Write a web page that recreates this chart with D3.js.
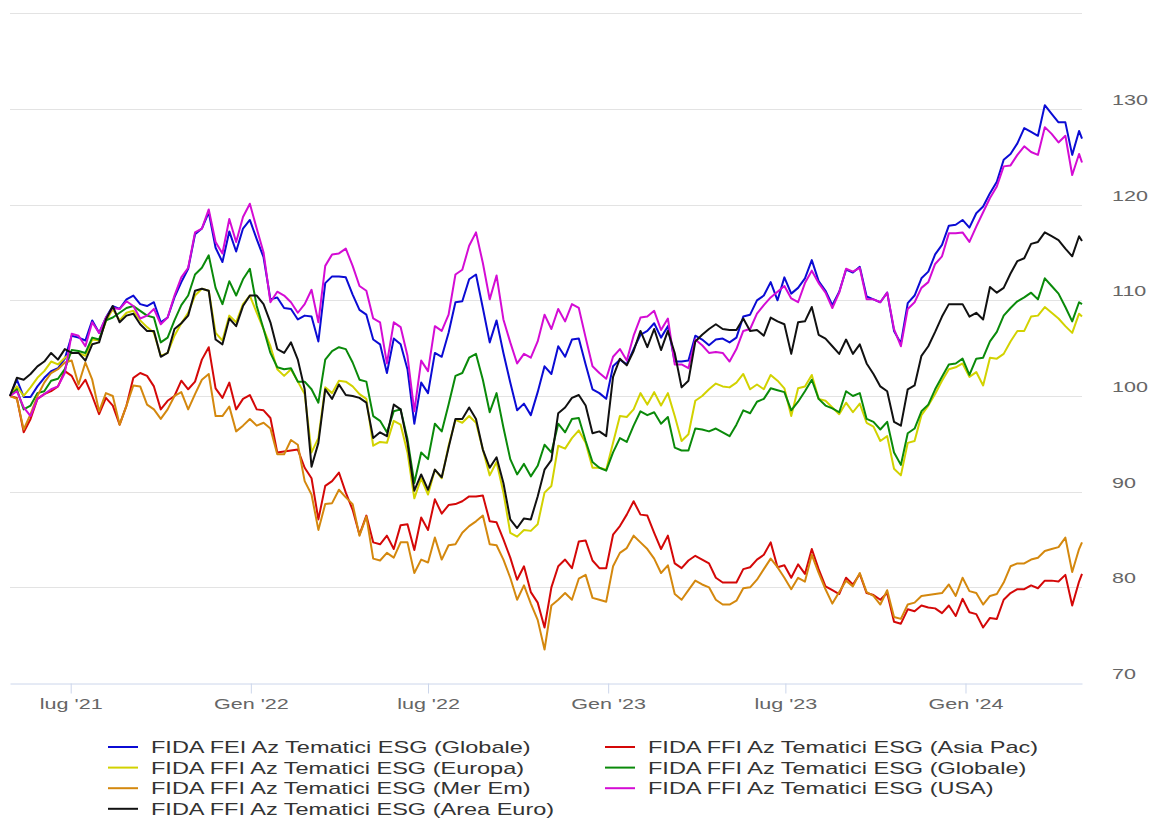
<!DOCTYPE html>
<html>
<head>
<meta charset="utf-8">
<script src="https://cdn.jsdelivr.net/npm/d3@7"></script>
<style>
  body { margin: 0; background: #fff; }
  svg { display: block; font-family: "Liberation Sans", Arial, sans-serif; }
</style>
</head>
<body>
<div id="chart"></div>
<script>

// Weekly closes (base 100)
const startDate = "2021-04-30";
const lastDate = "2024-04-29";

const feiGlobale = [
  100, 101.7, 99.9, 99.9, 101.0, 101.9, 102.6, 102.9, 103.9, 106.3, 106.1, 105.8, 107.9, 106.6, 108.2, 109.4, 109.1, 110.1, 110.5, 109.6, 109.4, 109.8, 107.7, 108.2, 110.3, 111.9, 113.3,
  116.9, 117.5, 119.2, 115.5, 114.0, 117.2, 115.1, 117.5, 118.4, 116.4, 114.5, 110.1, 110.3, 109.2, 109.1, 108.0, 108.4, 108.3, 105.7, 111.8, 112.5, 112.5, 112.4, 110.6,
  109.0, 108.5, 105.9, 105.4, 102.4, 106.0, 105.4, 102.8, 97.1, 101.4, 100.3, 104.5, 104.1, 106.6, 109.8, 109.9, 112.2, 112.7, 109.2, 105.6, 107.9, 104.5, 101.4, 98.5, 99.2, 98.0, 100.4,
  103.1, 102.3, 105.2, 104.1, 105.9, 106.0, 103.3, 100.7, 100.3, 99.7, 103.1, 103.8, 103.3, 104.9, 106.4, 106.8, 107.6, 106.1, 107.3, 103.6, 103.6, 103.7, 106.3, 105.9, 105.3, 105.9,
  106.0, 105.6, 106.1, 108.3, 108.5, 110.0, 110.5, 111.9, 110.0, 112.4, 110.7, 111.3, 112.3, 114.2, 112.0, 111.0, 109.5, 110.9, 113.2, 112.9, 113.5, 110.4, 110.1, 109.8,
  110.8, 106.8, 105.5, 109.7, 110.5, 112.3, 113.0, 114.8, 115.8, 117.8, 117.9, 118.4, 117.6, 119.1, 119.8, 121.2, 122.4, 124.7, 125.3, 126.4, 128.0, 127.6, 127.2, 130.4, 129.5, 128.6, 128.6, 125.2, 127.7, 126.9
];

const ffiAsiaPac = [
  100, 99.8, 96.2, 97.6, 99.7, 100.2, 100.5, 101.0, 102.6, 102.1, 100.7, 101.7, 100.0, 98.1, 99.8, 99.0, 97.0, 99.0, 101.9, 102.4, 102.1, 101.0, 98.6, 99.5, 100.0, 101.6, 100.7,
  101.5, 103.8, 105.1, 100.8, 99.8, 101.4, 98.6, 99.7, 100.1, 98.6, 98.5, 97.7, 94.1, 94.2, 94.3, 94.4, 92.5, 91.4, 87.1, 90.6, 91.1, 92.0, 89.9, 88.1,
  85.5, 87.5, 84.7, 84.5, 85.4, 84.0, 86.5, 86.6, 83.9, 87.3, 86.0, 89.2, 87.7, 88.6, 88.7, 89.0, 89.5, 89.5, 89.6, 86.9, 86.8, 85.0, 83.1, 80.8, 82.2, 79.5, 78.4,
  75.8, 80.0, 82.2, 82.9, 82.0, 84.8, 84.9, 82.8, 82.0, 82.0, 85.5, 86.4, 87.6, 89.0, 87.6, 87.5, 85.7, 84.0, 85.4, 82.5, 82.0, 82.8, 83.3, 82.9, 82.5, 81.0,
  80.5, 80.5, 80.5, 81.9, 82.1, 82.9, 83.4, 84.7, 82.1, 82.3, 81.0, 82.4, 81.4, 84.0, 81.9, 80.1, 79.7, 79.3, 81.0, 80.3, 81.4, 79.4, 79.2, 78.7,
  79.4, 76.4, 76.2, 77.7, 77.5, 78.1, 77.9, 77.8, 77.3, 78.1, 77.0, 78.8, 77.4, 77.2, 75.8, 76.8, 76.7, 78.7, 79.4, 79.8, 79.8, 80.2, 79.9, 80.7, 80.7, 80.6, 81.3, 78.1, 80.6, 81.4
];

const ffiEuropa = [
  100, 101.0, 100.0, 100.9, 101.9, 102.6, 103.6, 103.3, 104.0, 104.5, 104.5, 104.2, 105.9, 105.8, 107.8, 109.1, 107.9, 108.7, 108.9, 107.9, 107.2, 106.6, 104.2, 104.5, 106.3, 107.6, 108.7,
  110.5, 111.2, 111.0, 106.6, 105.8, 108.4, 107.7, 109.6, 110.5, 108.7, 107.0, 105.2, 102.8, 102.1, 102.8, 101.5, 100.2, 94.1, 95.6, 100.9, 100.3, 101.6, 101.5, 101.0,
  100.2, 99.7, 94.8, 95.2, 95.1, 97.4, 97.0, 94.1, 89.3, 91.4, 89.7, 92.3, 91.4, 94.8, 97.5, 97.2, 97.9, 97.2, 94.4, 91.7, 93.1, 89.9, 85.7, 85.3, 86.0, 85.9, 86.6,
  89.9, 90.6, 94.8, 94.5, 95.6, 96.4, 95.1, 92.5, 92.5, 92.3, 95.1, 97.9, 97.8, 98.6, 100.3, 99.1, 100.4, 99.0, 100.3, 97.9, 95.3, 96.0, 99.5, 100.0, 100.7, 101.3,
  101.0, 100.9, 101.4, 102.3, 100.7, 101.2, 100.7, 102.2, 101.6, 100.8, 97.9, 100.8, 101.0, 102.2, 99.7, 99.5, 98.8, 98.1, 99.3, 98.3, 99.2, 97.2, 96.8, 95.3,
  95.8, 92.4, 91.7, 95.1, 95.3, 98.0, 99.0, 100.2, 101.6, 102.8, 103.0, 103.4, 102.0, 102.5, 101.1, 104.0, 103.9, 104.4, 105.7, 106.8, 106.8, 108.3, 108.4, 109.3, 108.7, 108.1, 107.3, 106.6, 108.6, 108.3
];

const ffiGlobale = [
  100, 100.7, 98.6, 99.0, 100.3, 100.5, 101.6, 101.8, 102.8, 104.8, 104.7, 104.5, 106.1, 105.9, 107.9, 108.2, 108.7, 109.2, 109.4, 108.9, 108.4, 108.2, 105.6, 106.1, 107.9, 109.5, 110.5,
  112.7, 113.4, 114.7, 111.3, 109.6, 112.0, 110.5, 112.2, 113.3, 109.4, 107.0, 104.5, 103.0, 102.8, 102.9, 101.5, 101.5, 100.7, 99.3, 103.8, 104.7, 105.1, 104.9, 103.5,
  101.7, 101.5, 97.9, 97.4, 96.2, 98.4, 98.6, 95.5, 90.9, 94.1, 93.4, 97.1, 96.3, 99.1, 102.1, 102.4, 104.0, 104.4, 101.7, 98.3, 100.3, 96.7, 93.4, 91.8, 92.9, 91.6, 92.7,
  94.9, 94.1, 97.1, 96.2, 97.6, 97.7, 95.3, 93.1, 92.5, 92.2, 94.1, 95.6, 95.2, 96.9, 98.4, 98.0, 98.3, 97.1, 97.8, 94.6, 94.3, 94.3, 96.6, 96.5, 96.3, 96.6,
  96.2, 95.8, 97.0, 98.5, 98.2, 99.4, 99.7, 100.8, 100.6, 100.4, 98.5, 99.4, 100.5, 101.7, 99.7, 99.0, 98.7, 98.3, 100.5, 100.0, 100.3, 97.6, 97.3, 96.5,
  97.3, 94.1, 92.8, 96.1, 96.6, 98.4, 99.1, 100.7, 102.0, 103.3, 103.4, 103.9, 102.2, 103.9, 104.0, 105.7, 106.7, 108.4, 109.2, 109.9, 110.3, 110.8, 110.1, 112.3, 111.5, 110.7, 109.3, 107.8, 109.8, 109.6
];

const ffiMerEm = [
  100, 99.7, 96.5, 98.1, 100.0, 101.4, 102.4, 102.8, 103.5, 103.7, 101.2, 103.5, 101.7, 98.4, 100.3, 100.0, 97.0, 99.0, 101.1, 101.0, 99.1, 98.6, 97.6, 98.6, 100.0, 100.4, 98.6,
  100.2, 101.7, 102.3, 97.9, 97.9, 98.9, 96.3, 96.9, 97.6, 96.9, 97.2, 96.6, 93.9, 93.9, 95.4, 94.9, 91.1, 89.7, 86.0, 88.7, 88.8, 90.2, 89.4, 88.7,
  85.4, 87.4, 83.0, 82.8, 83.6, 83.1, 84.7, 84.7, 81.5, 82.9, 82.6, 85.2, 82.9, 84.4, 84.5, 85.7, 86.4, 86.9, 87.5, 84.5, 84.4, 82.9, 81.0, 78.7, 80.2, 78.3, 76.6,
  73.5, 78.1, 78.7, 79.4, 78.7, 80.9, 81.3, 78.9, 78.7, 78.5, 82.2, 83.6, 84.1, 85.4, 84.7, 84.0, 83.0, 81.5, 82.3, 79.3, 78.7, 79.7, 80.7, 80.3, 80.0, 78.7,
  78.2, 78.2, 78.6, 79.9, 80.0, 80.8, 81.9, 83.0, 82.1, 81.0, 79.8, 81.0, 80.6, 83.4, 81.5, 79.8, 78.3, 79.5, 80.7, 80.1, 81.5, 79.5, 79.1, 78.2,
  79.7, 76.9, 76.7, 78.2, 78.4, 79.1, 79.2, 79.3, 79.4, 80.3, 79.1, 81.0, 79.6, 79.4, 78.2, 79.1, 79.3, 80.5, 82.2, 82.5, 82.5, 82.9, 83.1, 83.8, 84.0, 84.2, 85.2, 81.6, 84.0, 84.7
];

const ffiUSA = [
  100, 100.5, 98.8, 97.9, 99.7, 100.2, 100.7, 101.0, 102.4, 106.5, 106.3, 105.2, 107.7, 106.6, 108.2, 109.2, 109.1, 109.9, 109.4, 108.1, 108.4, 109.1, 107.5, 108.2, 110.5, 112.4, 113.4,
  117.1, 117.5, 119.5, 116.1, 114.9, 118.5, 116.1, 118.7, 120.1, 117.5, 115.0, 109.8, 110.9, 110.5, 109.8, 108.7, 109.6, 111.1, 107.7, 113.6, 114.8, 114.9, 115.4, 113.6,
  111.5, 111.0, 108.1, 107.7, 103.4, 107.7, 107.2, 104.2, 98.4, 103.7, 102.6, 107.3, 106.8, 108.5, 112.7, 113.2, 115.7, 117.1, 113.9, 110.1, 112.6, 108.0, 105.6, 103.4, 104.4, 104.0, 105.7,
  108.5, 107.0, 109.1, 107.8, 109.6, 109.2, 106.1, 103.1, 102.4, 101.8, 104.1, 104.9, 103.7, 106.3, 108.2, 108.3, 108.9, 106.9, 108.1, 103.3, 103.3, 102.9, 105.9, 105.3, 104.5, 104.6,
  104.5, 103.6, 104.9, 106.8, 107.0, 108.6, 109.5, 110.3, 110.9, 111.5, 110.2, 109.8, 111.8, 113.1, 111.8, 110.8, 109.2, 110.8, 113.3, 113.0, 113.4, 110.1, 110.1, 109.8,
  110.8, 107.0, 105.2, 109.1, 109.8, 111.3, 111.9, 113.8, 114.6, 117.0, 117.0, 117.1, 116.1, 117.7, 119.2, 120.7, 121.9, 124.0, 124.1, 125.2, 126.1, 125.5, 125.2, 128.1, 127.4, 126.5, 127.2, 123.1, 125.3, 124.4
];

const ffiAreaEuro = [
  100, 101.9, 101.7, 102.3, 103.1, 103.6, 104.5, 103.8, 104.9, 104.5, 104.5, 103.7, 105.4, 105.6, 108.0, 109.4, 107.7, 108.4, 108.6, 107.5, 106.8, 106.8, 104.1, 104.5, 107.0, 107.6, 108.4,
  111.0, 111.2, 111.0, 105.9, 105.4, 108.1, 107.3, 109.4, 110.5, 110.5, 109.6, 107.7, 104.9, 104.5, 105.6, 103.8, 100.7, 92.6, 95.1, 100.7, 99.7, 101.2, 100.1, 100.0,
  99.8, 99.3, 95.6, 96.2, 95.8, 99.1, 98.6, 95.1, 90.1, 91.8, 90.2, 92.3, 91.5, 94.6, 97.6, 97.6, 98.8, 97.6, 94.4, 92.5, 93.6, 90.9, 87.1, 86.2, 87.2, 87.1, 89.5,
  92.3, 93.3, 98.2, 98.8, 99.8, 100.1, 99.0, 96.1, 96.3, 95.8, 102.0, 103.9, 103.2, 104.7, 106.8, 105.1, 107.0, 104.8, 106.8, 104.5, 100.9, 101.6, 105.7, 106.4, 107.0, 107.5,
  107.0, 106.9, 106.9, 108.1, 106.8, 106.9, 106.3, 108.2, 107.8, 107.5, 104.4, 107.7, 107.8, 109.3, 106.4, 106.0, 105.2, 104.4, 105.9, 104.4, 105.4, 103.4, 102.3, 101.0,
  100.5, 97.3, 96.9, 100.7, 101.1, 104.2, 105.2, 106.7, 108.3, 109.6, 109.6, 109.6, 108.3, 108.7, 108.0, 111.4, 110.8, 111.3, 112.8, 114.1, 114.4, 115.9, 116.1, 117.1, 116.7, 116.3, 115.4, 114.6, 116.7, 116.2
];

const seriesNames = [
  "FIDA FEI Az Tematici ESG (Globale)",
  "FIDA FFI Az Tematici ESG (Asia Pac)",
  "FIDA FFI Az Tematici ESG (Europa)",
  "FIDA FFI Az Tematici ESG (Globale)",
  "FIDA FFI Az Tematici ESG (Mer Em)",
  "FIDA FFI Az Tematici ESG (USA)",
  "FIDA FFI Az Tematici ESG (Area Euro)"
];
const seriesColors = ["#0b0bd4", "#d40808", "#d2d200", "#0a8a0a", "#d4880e", "#d40cd4", "#111111"];
const seriesValues = [feiGlobale, ffiAsiaPac, ffiEuropa, ffiGlobale, ffiMerEm, ffiUSA, ffiAreaEuro];

const yTicks = [70, 80, 90, 100, 110, 120, 130];
const gridValues = [80, 90, 100, 110, 120, 130, 140];
const xTickDates = ["2021-07-01", "2022-01-01", "2022-07-01", "2023-01-01", "2023-07-01", "2024-01-01"];
const xTickLabels = ["lug '21", "Gen '22", "lug '22", "Gen '23", "lug '23", "Gen '24"];


// Set dimensions and plot box
const width = 1151;
const height = 818;
const plot = {left: 10, right: 1082, top: 13.3, bottom: 683};
const stretch = "scale(1.4,1)";   // the reference text looks stretched sideways

const parse = d3.utcParse("%Y-%m-%d");

// one date per weekly close, last one is a partial week
const dates = d3.range(feiGlobale.length - 1)
  .map(i => d3.utcDay.offset(parse(startDate), 7 * i))
  .concat([parse(lastDate)]);

const svg = d3.select("#chart")
  .append("svg")
  .attr("width", width)
  .attr("height", height)
  .attr("viewBox", [0, 0, width, height]);

/*

  Scales

*/

const xScale = d3.scaleUtc()
  .domain([dates[0], dates[dates.length - 1]])
  .range([plot.left, plot.right]);

const yScale = d3.scaleLinear()
  .domain([70, 140])
  .range([plot.bottom, plot.top]);

/*

  Grid and axes

*/

// horizontal grid lines
svg.append("g")
  .selectAll("line")
  .data(gridValues)
  .enter()
  .append("line")
    .attr("x1", plot.left)
    .attr("x2", plot.right)
    .attr("y1", d => Math.round(yScale(d)) + 0.5)
    .attr("y2", d => Math.round(yScale(d)) + 0.5)
    .attr("stroke", "#e3e3e3")
    .attr("stroke-width", 1);

// x axis at the bottom
const xAxis = svg.append("g")
  .attr("transform", `translate(0,${Math.round(plot.bottom) + 0.5})`)
  .call(d3.axisBottom(xScale)
    .tickValues(xTickDates.map(parse))
    .tickFormat((d, i) => xTickLabels[i])
    .tickSize(10)
    .tickSizeOuter(0));

xAxis.select(".domain").attr("stroke", "#ccd6eb");
xAxis.selectAll(".tick line").attr("stroke", "#ccd6eb");
xAxis.selectAll(".tick text")
  .attr("y", 26)
  .attr("dy", 0)
  .attr("fill", "#666")
  .attr("font-size", "15.4px")
  .attr("transform", stretch);

// y labels on the right, no axis line
svg.append("g")
  .selectAll("text")
  .data(yTicks)
  .enter()
  .append("text")
    .attr("transform", d => `translate(1112,${yScale(d) - 4}) ${stretch}`)
    .attr("fill", "#666")
    .attr("font-size", "15.4px")
    .text(d => d);

/*

  Lines

*/

const line = d3.line()
  .x((d, i) => xScale(dates[i]))
  .y(d => yScale(d));

svg.append("g")
  .selectAll("path")
  .data(seriesValues)
  .enter()
  .append("path")
    .attr("d", line)
    .attr("fill", "none")
    .attr("stroke", (d, i) => seriesColors[i])
    .attr("stroke-width", 2)
    .attr("stroke-linejoin", "round");

/*

  Legend

*/

const legend = svg.append("g")
  .selectAll("g")
  .data(seriesNames)
  .enter()
  .append("g")
    .attr("transform", (d, i) => `translate(${108 + (i % 2) * 497},${747 + Math.floor(i / 2) * 20.6})`);

legend.append("line")
  .attr("x1", 0)
  .attr("x2", 30)
  .attr("stroke", (d, i) => seriesColors[i])
  .attr("stroke-width", 2);

legend.append("text")
  .attr("transform", `translate(43,6) ${stretch}`)
  .attr("fill", "#333")
  .attr("font-size", "16.8px")
  .text(d => d);

</script>
</body>
</html>
